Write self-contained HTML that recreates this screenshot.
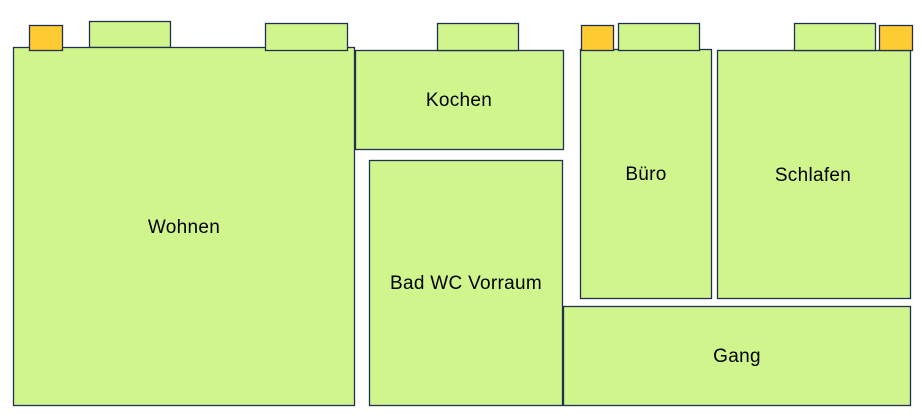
<!DOCTYPE html>
<html><head><style>body{margin:0;background:#fff}svg{display:block}text{font-family:"Liberation Sans",sans-serif;font-size:19px;fill:#000;letter-spacing:0.3px}</style></head><body>
<svg width="922" height="420" xmlns="http://www.w3.org/2000/svg">
<g stroke="#1f3050" stroke-width="1.3">
<rect x="89.5" y="21.5" width="81" height="26" fill="#d0f58c"/>
<rect x="13.5" y="47.5" width="341" height="358" fill="#d0f58c"/>
<rect x="29.5" y="25.5" width="33" height="25" fill="#ffcb33"/>
<rect x="265.5" y="23.5" width="82" height="27" fill="#d0f58c"/>
<rect x="355.5" y="50.5" width="208" height="99" fill="#d0f58c"/>
<rect x="437.5" y="23.5" width="81" height="27" fill="#d0f58c"/>
<rect x="369.5" y="160.5" width="193" height="245" fill="#d0f58c"/>
<rect x="580.5" y="49.5" width="131" height="249" fill="#d0f58c"/>
<rect x="581.5" y="25.5" width="32" height="25" fill="#ffcb33"/>
<rect x="618.5" y="23.5" width="81" height="27" fill="#d0f58c"/>
<rect x="717.5" y="50.5" width="193" height="248" fill="#d0f58c"/>
<rect x="794.5" y="23.5" width="81" height="27" fill="#d0f58c"/>
<rect x="879.5" y="25.5" width="33" height="25" fill="#ffcb33"/>
<rect x="563.5" y="306.5" width="347" height="99" fill="#d0f58c"/>
</g>
<g text-anchor="middle">
<text x="184" y="233">Wohnen</text>
<text x="459" y="106">Kochen</text>
<text x="466" y="289">Bad WC Vorraum</text>
<text x="646" y="180">Büro</text>
<text x="813" y="181">Schlafen</text>
<text x="737" y="362">Gang</text>
</g>
</svg>
</body></html>
